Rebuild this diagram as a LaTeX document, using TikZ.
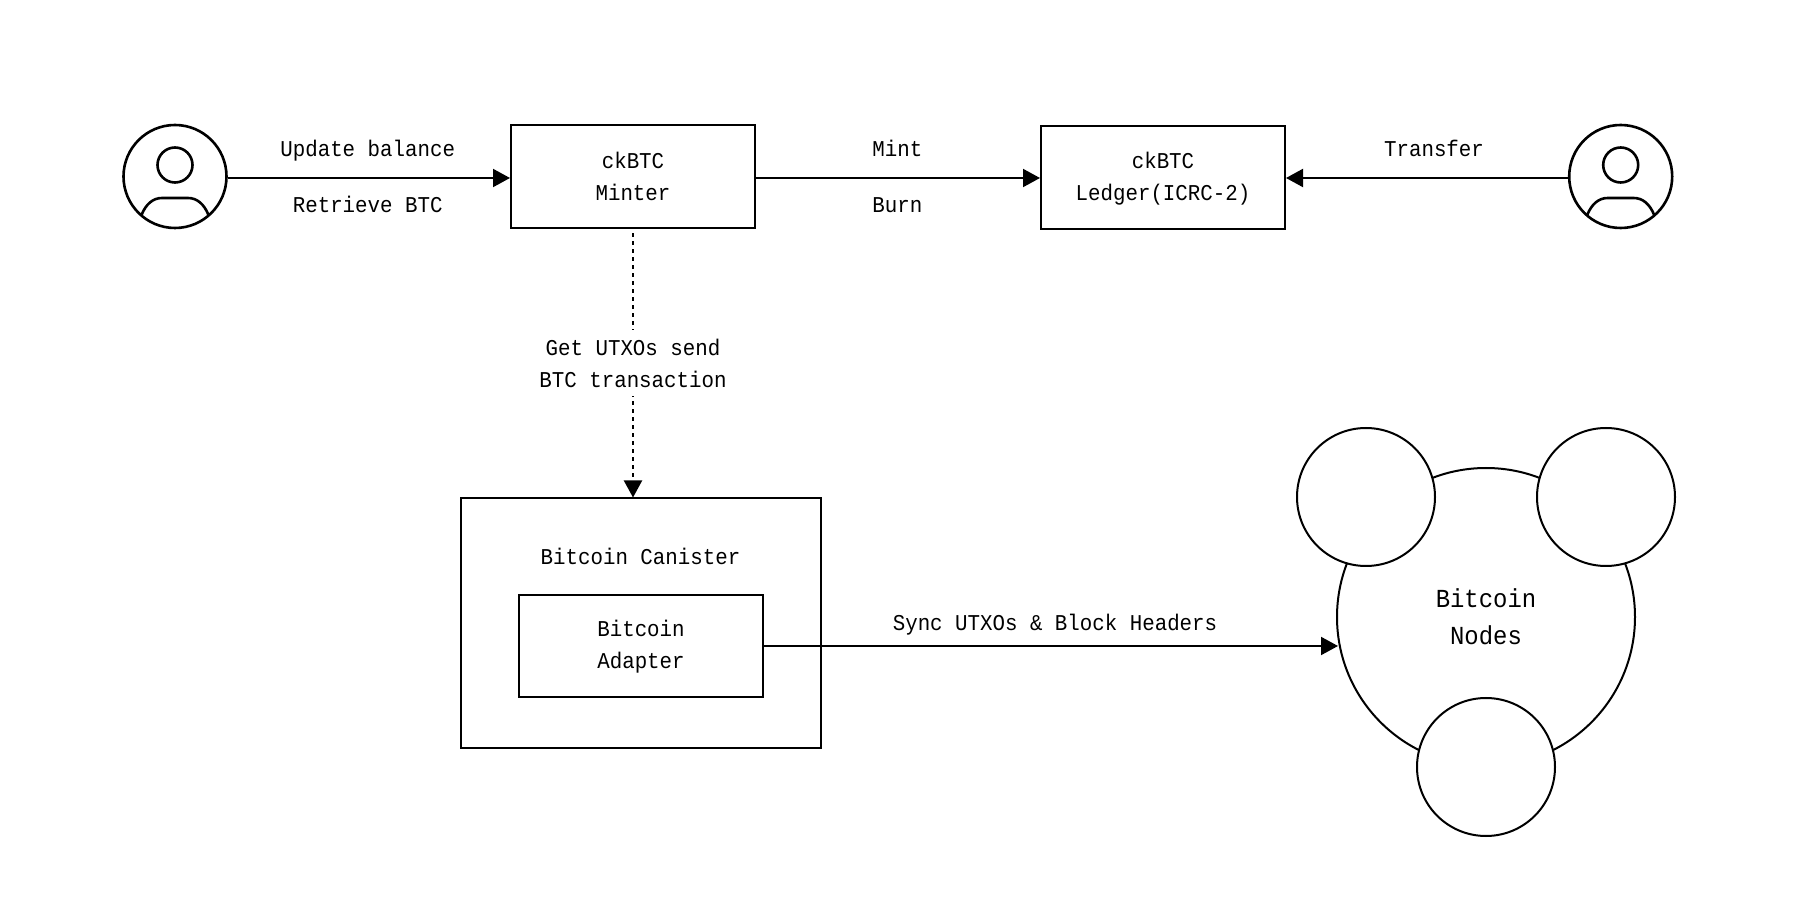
\documentclass[tikz,border=0pt]{standalone}
\usepackage{fontspec}
\setmainfont[FakeStretch=0.92]{Liberation Mono}
\usetikzlibrary{arrows.meta,positioning}
\tikzset{
  x=0.5pt,y=-0.5pt,
  boxnode/.style={draw=black,line width=1pt,fill=white,minimum width=122pt,minimum height=51.5pt,inner sep=0pt,align=center,font=\fontsize{11.3pt}{16pt}\selectfont},
  canisterbox/.style={draw=black,line width=1pt,minimum width=180pt,minimum height=125pt,inner sep=0pt},
  circ/.style={draw=black,line width=1pt,fill=white,circle,inner sep=0pt},
  lbl/.style={inner sep=0pt,align=center,font=\fontsize{11.3pt}{16pt}\selectfont},
  conn/.style={line width=1pt,-{Triangle[length=8.5pt,width=9pt]}},
  usr/.style={line width=1.3pt},
}
\begin{document}
\begin{tikzpicture}
\useasboundingbox (0,0) rectangle (1796,898);
\fill[white] (0,0) rectangle (1796,898);
% big circle and satellites
\node[circ,minimum size=149pt] (big) at (1486,617) {};
\node[lbl,font=\fontsize{13pt}{18.5pt}\selectfont] (bigtxt) at (1486,617) {Bitcoin\\Nodes};
\node[circ,minimum size=69pt] (nodeA) at (1366,497) {};
\node[circ,minimum size=69pt] (nodeB) at (1606,497) {};
\node[circ,minimum size=69pt] (nodeC) at (1486,767) {};
% users
\node[circle,draw=black,usr,minimum size=51.5pt,inner sep=0pt] (userL) at (175,176.5) {};
\node[circle,draw=black,usr,minimum size=17.5pt,inner sep=0pt] (headL) at (175,165) {};
\draw[usr] (141.5,215) .. controls (146,204) and (153,198) .. (162,198) -- (188,198) .. controls (197,198) and (204,204) .. (208.5,215);
\node[circle,draw=black,usr,minimum size=51.5pt,inner sep=0pt] (userR) at (1620.7,176.5) {};
\node[circle,draw=black,usr,minimum size=17.5pt,inner sep=0pt] (headR) at (1620.7,165) {};
\draw[usr] (1587.2,215) .. controls (1591.7,204) and (1598.7,198) .. (1607.7,198) -- (1633.7,198) .. controls (1642.7,198) and (1649.7,204) .. (1654.2,215);
% boxes
\node[boxnode] (minter) at (633,176.5) {};
\node[lbl] (mintertxt) at (633,176) {ckBTC\\Minter};
\node[boxnode] (ledger) at (1163,177.5) {};
\node[lbl] (ledgertxt) at (1163,179) {ckBTC\\Ledger(ICRC-2)};
\node[canisterbox] (canister) at (641,623.5) {};
\node[boxnode,minimum height=51pt] (adapter) at (641,646) {};
\node[lbl] (adaptertxt) at (641,646.5) {Bitcoin\\Adapter};
\node[lbl] (cantxt) at (640.5,556) {Bitcoin Canister};
% connectors
\draw[conn] (userL.east |- 0,178) -- (minter.west |- 0,178);
\draw[conn] (minter.east |- 0,178) -- (ledger.west |- 0,178);
\draw[conn] (userR.west |- 0,178) -- (ledger.east |- 0,178);
\draw[conn,dash pattern=on 2pt off 2pt,shorten <=2.2pt] (minter.south) -- (minter.south |- canister.north);
\draw[conn,shorten >=-1pt] (adapter.east) -- (big.west |- adapter.east);
% labels
\node[lbl,anchor=base] (l1) at (367.7,157) {Update balance};
\node[lbl,anchor=base] (l2) at (367.7,213) {Retrieve BTC};
\node[lbl,anchor=base] (l3) at (897.4,157) {Mint};
\node[lbl,anchor=base] (l4) at (897.4,213) {Burn};
\node[lbl,anchor=base] (l5) at (1434,157) {Transfer};
\node[lbl,fill=white,inner ysep=4.5pt] (l6) at (633,363) {Get UTXOs send\\BTC transaction};
\node[lbl,anchor=base] (l7) at (1055,631) {Sync UTXOs \& Block Headers};
\end{tikzpicture}
\end{document}
